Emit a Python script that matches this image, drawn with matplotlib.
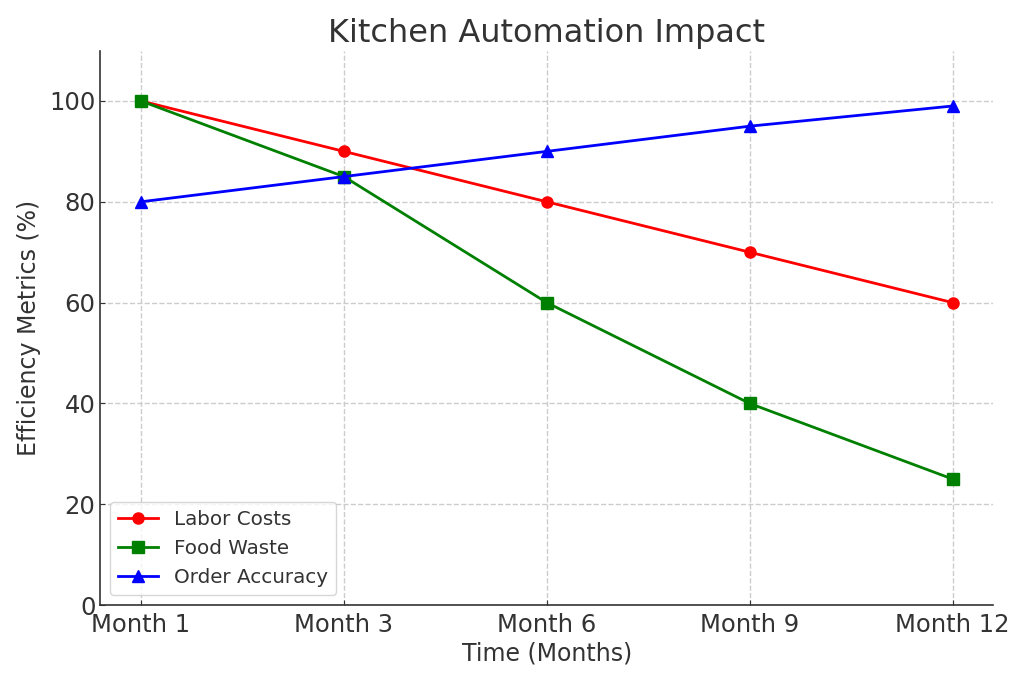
import matplotlib
matplotlib.use('Agg')
import matplotlib.pyplot as plt

months = ['Month 1', 'Month 3', 'Month 6', 'Month 9', 'Month 12']
labor_costs = [100, 90, 80, 70, 60]
food_waste = [100, 85, 60, 40, 25]
order_accuracy = [80, 85, 90, 95, 99]

fig, ax = plt.subplots(figsize=(10.24, 6.83), dpi=100)

ax.plot(months, labor_costs, marker='o', color='red', lw=2, ms=8, label='Labor Costs')
ax.plot(months, food_waste, marker='s', color='green', lw=2, ms=8, label='Food Waste')
ax.plot(months, order_accuracy, marker='^', color='blue', lw=2, ms=8, label='Order Accuracy')

ax.set_ylim(0, 110)
ax.set_title('Kitchen Automation Impact', fontsize=23, color='#333333')
ax.set_xlabel('Time (Months)', fontsize=17, color='#333333', labelpad=3)
ax.set_ylabel('Efficiency Metrics (%)', fontsize=17, color='#333333', labelpad=6)
ax.tick_params(direction='in', labelsize=17.5, labelcolor='#333333', color='#333333')
ax.tick_params(axis='x', pad=6)
ax.grid(True, ls='--', color='#cccccc', lw=1)
for s in ['top', 'right']:
    ax.spines[s].set_visible(False)
for s in ['left', 'bottom']:
    ax.spines[s].set_color('#333333')
    ax.spines[s].set_linewidth(1.2)
leg = ax.legend(loc='lower left', fontsize=14.3)
for t in leg.get_texts():
    t.set_color('#333333')

fig.subplots_adjust(left=0.098, right=0.97, top=0.926, bottom=0.114)
plt.savefig('out.png', dpi=100)
